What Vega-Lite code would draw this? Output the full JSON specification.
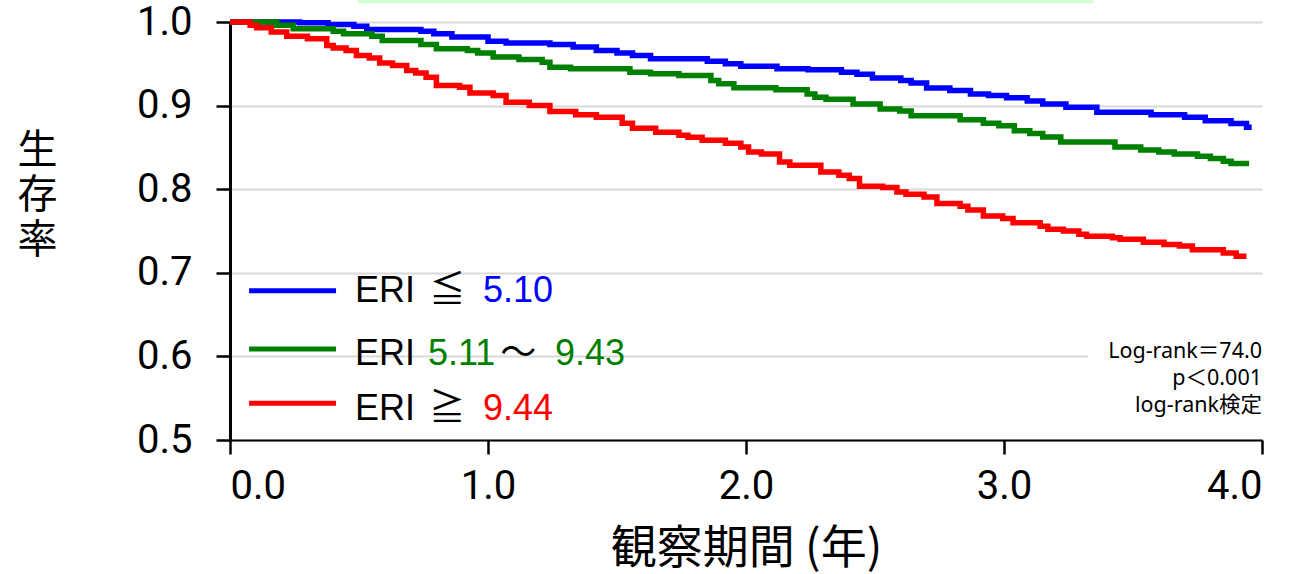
{
  "$schema": "https://vega.github.io/schema/vega-lite/v6.json",
  "width": 1032,
  "height": 418,
  "autosize": {"type": "none"},
  "padding": {"left": 230, "top": 22, "right": 32, "bottom": 134},
  "background": "white",
  "config": {
    "view": {"stroke": null},
    "axisX": {
      "format": ".1f", "grid": false,
      "labelFont": "Roboto", "labelFontSize": 40, "labelColor": "#000000", "labelPadding": 12,
      "tickSize": 14, "tickWidth": 2.5, "tickColor": "#000000",
      "domainColor": "#000000", "domainWidth": 2,
      "titleFont": "Noto Sans CJK JP", "titleFontSize": 46, "titleFontWeight": "normal", "titleColor": "#000000",
      "titleX": 516, "titleY": 108, "titleBaseline": "middle", "titleAlign": "center"
    },
    "axisY": {
      "format": ".1f", "grid": true,
      "gridColor": "#d9d9d9", "gridWidth": 2,
      "labelFont": "Roboto", "labelFontSize": 40, "labelColor": "#000000", "labelPadding": 24,
      "tickSize": 14, "tickWidth": 2.5, "tickColor": "#000000",
      "domainColor": "#000000", "domainWidth": 3,
      "titleFont": "Noto Sans CJK JP", "titleFontSize": 40, "titleFontWeight": "normal", "titleColor": "#000000",
      "titleAngle": 0, "titleX": -193, "titleY": 128, "titleAlign": "center", "titleBaseline": "middle", "titleLineHeight": 45
    }
  },
  "datasets": {
    "km": [
      {"g": "low", "t": 0, "s": 1.0},
      {"g": "low", "t": 0.27, "s": 0.999},
      {"g": "low", "t": 0.38, "s": 0.997},
      {"g": "low", "t": 0.48, "s": 0.995},
      {"g": "low", "t": 0.53, "s": 0.991},
      {"g": "low", "t": 0.74, "s": 0.989},
      {"g": "low", "t": 0.79, "s": 0.986},
      {"g": "low", "t": 0.86, "s": 0.982},
      {"g": "low", "t": 1.0, "s": 0.977},
      {"g": "low", "t": 1.07, "s": 0.975},
      {"g": "low", "t": 1.24, "s": 0.973},
      {"g": "low", "t": 1.33, "s": 0.97},
      {"g": "low", "t": 1.42, "s": 0.966},
      {"g": "low", "t": 1.5, "s": 0.963},
      {"g": "low", "t": 1.56, "s": 0.96},
      {"g": "low", "t": 1.63, "s": 0.956},
      {"g": "low", "t": 1.85, "s": 0.953},
      {"g": "low", "t": 1.92, "s": 0.95},
      {"g": "low", "t": 1.98, "s": 0.947},
      {"g": "low", "t": 2.12, "s": 0.944},
      {"g": "low", "t": 2.24, "s": 0.943},
      {"g": "low", "t": 2.37, "s": 0.94},
      {"g": "low", "t": 2.43, "s": 0.9375},
      {"g": "low", "t": 2.49, "s": 0.933},
      {"g": "low", "t": 2.6, "s": 0.93},
      {"g": "low", "t": 2.64, "s": 0.927},
      {"g": "low", "t": 2.7, "s": 0.921},
      {"g": "low", "t": 2.79, "s": 0.918},
      {"g": "low", "t": 2.87, "s": 0.914},
      {"g": "low", "t": 2.94, "s": 0.912},
      {"g": "low", "t": 3.01, "s": 0.9095},
      {"g": "low", "t": 3.09, "s": 0.9055},
      {"g": "low", "t": 3.15, "s": 0.902},
      {"g": "low", "t": 3.24, "s": 0.898},
      {"g": "low", "t": 3.36, "s": 0.892},
      {"g": "low", "t": 3.57, "s": 0.889},
      {"g": "low", "t": 3.7, "s": 0.886},
      {"g": "low", "t": 3.78, "s": 0.882},
      {"g": "low", "t": 3.88, "s": 0.8785},
      {"g": "low", "t": 3.94, "s": 0.874},
      {"g": "low", "t": 3.96, "s": 0.874},
      {"g": "mid", "t": 0, "s": 1.0},
      {"g": "mid", "t": 0.18, "s": 0.996},
      {"g": "mid", "t": 0.245, "s": 0.992},
      {"g": "mid", "t": 0.4, "s": 0.989},
      {"g": "mid", "t": 0.44, "s": 0.986},
      {"g": "mid", "t": 0.55, "s": 0.983},
      {"g": "mid", "t": 0.59, "s": 0.978},
      {"g": "mid", "t": 0.74, "s": 0.973},
      {"g": "mid", "t": 0.8, "s": 0.968},
      {"g": "mid", "t": 0.92, "s": 0.966},
      {"g": "mid", "t": 0.96, "s": 0.963},
      {"g": "mid", "t": 1.02, "s": 0.958},
      {"g": "mid", "t": 1.12, "s": 0.955},
      {"g": "mid", "t": 1.21, "s": 0.952},
      {"g": "mid", "t": 1.24, "s": 0.946},
      {"g": "mid", "t": 1.32, "s": 0.944},
      {"g": "mid", "t": 1.55, "s": 0.94},
      {"g": "mid", "t": 1.63, "s": 0.938},
      {"g": "mid", "t": 1.74, "s": 0.936},
      {"g": "mid", "t": 1.864, "s": 0.93},
      {"g": "mid", "t": 1.894, "s": 0.926},
      {"g": "mid", "t": 1.953, "s": 0.9215},
      {"g": "mid", "t": 2.116, "s": 0.919},
      {"g": "mid", "t": 2.237, "s": 0.914},
      {"g": "mid", "t": 2.267, "s": 0.91},
      {"g": "mid", "t": 2.31, "s": 0.9075},
      {"g": "mid", "t": 2.415, "s": 0.902},
      {"g": "mid", "t": 2.52, "s": 0.896},
      {"g": "mid", "t": 2.596, "s": 0.8935},
      {"g": "mid", "t": 2.64, "s": 0.888},
      {"g": "mid", "t": 2.83, "s": 0.883},
      {"g": "mid", "t": 2.92, "s": 0.879},
      {"g": "mid", "t": 2.98, "s": 0.876},
      {"g": "mid", "t": 3.04, "s": 0.87},
      {"g": "mid", "t": 3.1, "s": 0.8665},
      {"g": "mid", "t": 3.15, "s": 0.8625},
      {"g": "mid", "t": 3.22, "s": 0.8565},
      {"g": "mid", "t": 3.43, "s": 0.8505},
      {"g": "mid", "t": 3.53, "s": 0.847},
      {"g": "mid", "t": 3.6, "s": 0.8445},
      {"g": "mid", "t": 3.66, "s": 0.842},
      {"g": "mid", "t": 3.75, "s": 0.8395},
      {"g": "mid", "t": 3.8, "s": 0.8366},
      {"g": "mid", "t": 3.85, "s": 0.8334},
      {"g": "mid", "t": 3.88, "s": 0.8306},
      {"g": "mid", "t": 3.95, "s": 0.8306},
      {"g": "high", "t": 0, "s": 1.0},
      {"g": "high", "t": 0.078, "s": 0.996},
      {"g": "high", "t": 0.103, "s": 0.993},
      {"g": "high", "t": 0.16, "s": 0.988},
      {"g": "high", "t": 0.22, "s": 0.983},
      {"g": "high", "t": 0.3, "s": 0.98},
      {"g": "high", "t": 0.375, "s": 0.972},
      {"g": "high", "t": 0.4, "s": 0.969},
      {"g": "high", "t": 0.45, "s": 0.966},
      {"g": "high", "t": 0.49, "s": 0.96},
      {"g": "high", "t": 0.54, "s": 0.957},
      {"g": "high", "t": 0.58, "s": 0.951},
      {"g": "high", "t": 0.63, "s": 0.948},
      {"g": "high", "t": 0.685, "s": 0.942},
      {"g": "high", "t": 0.72, "s": 0.939},
      {"g": "high", "t": 0.76, "s": 0.934},
      {"g": "high", "t": 0.8, "s": 0.924},
      {"g": "high", "t": 0.89, "s": 0.922},
      {"g": "high", "t": 0.93, "s": 0.915},
      {"g": "high", "t": 1.02, "s": 0.912},
      {"g": "high", "t": 1.07, "s": 0.904},
      {"g": "high", "t": 1.16, "s": 0.9},
      {"g": "high", "t": 1.24, "s": 0.893},
      {"g": "high", "t": 1.34, "s": 0.889},
      {"g": "high", "t": 1.42, "s": 0.886},
      {"g": "high", "t": 1.52, "s": 0.879},
      {"g": "high", "t": 1.56, "s": 0.873},
      {"g": "high", "t": 1.65, "s": 0.868},
      {"g": "high", "t": 1.74, "s": 0.8645},
      {"g": "high", "t": 1.775, "s": 0.862},
      {"g": "high", "t": 1.83, "s": 0.8585},
      {"g": "high", "t": 1.92, "s": 0.855},
      {"g": "high", "t": 1.98, "s": 0.8505},
      {"g": "high", "t": 2.01, "s": 0.8445},
      {"g": "high", "t": 2.06, "s": 0.842},
      {"g": "high", "t": 2.13, "s": 0.8325},
      {"g": "high", "t": 2.17, "s": 0.8286},
      {"g": "high", "t": 2.29, "s": 0.8206},
      {"g": "high", "t": 2.36, "s": 0.8166},
      {"g": "high", "t": 2.4, "s": 0.8127},
      {"g": "high", "t": 2.44, "s": 0.8035},
      {"g": "high", "t": 2.53, "s": 0.802},
      {"g": "high", "t": 2.585, "s": 0.7967},
      {"g": "high", "t": 2.62, "s": 0.794},
      {"g": "high", "t": 2.69, "s": 0.7907},
      {"g": "high", "t": 2.74, "s": 0.7828},
      {"g": "high", "t": 2.83, "s": 0.7796},
      {"g": "high", "t": 2.86, "s": 0.775},
      {"g": "high", "t": 2.92, "s": 0.768},
      {"g": "high", "t": 2.995, "s": 0.765},
      {"g": "high", "t": 3.035, "s": 0.76},
      {"g": "high", "t": 3.14, "s": 0.7556},
      {"g": "high", "t": 3.17, "s": 0.752},
      {"g": "high", "t": 3.23, "s": 0.75},
      {"g": "high", "t": 3.29, "s": 0.746},
      {"g": "high", "t": 3.32, "s": 0.7437},
      {"g": "high", "t": 3.42, "s": 0.742},
      {"g": "high", "t": 3.45, "s": 0.74},
      {"g": "high", "t": 3.54, "s": 0.7365},
      {"g": "high", "t": 3.62, "s": 0.734},
      {"g": "high", "t": 3.68, "s": 0.732},
      {"g": "high", "t": 3.73, "s": 0.7277},
      {"g": "high", "t": 3.85, "s": 0.7237},
      {"g": "high", "t": 3.9, "s": 0.7197},
      {"g": "high", "t": 3.94, "s": 0.7197}
    ],
    "legLines": [
      {"g": "low", "s": 0.6786},
      {"g": "mid", "s": 0.609},
      {"g": "high", "s": 0.5441}
    ],
    "legText": [
      {"t": 0.4845, "s": 0.6651, "txt": "ERI", "c": "k"},
      {"t": 0.772, "s": 0.6651, "txt": "≦", "c": "k"},
      {"t": 0.9806, "s": 0.6651, "txt": "5.10", "c": "low"},
      {"t": 0.4845, "s": 0.5899, "txt": "ERI", "c": "k"},
      {"t": 0.7674, "s": 0.5899, "txt": "5.11", "c": "mid"},
      {"t": 1.047, "s": 0.5899, "txt": "～", "c": "k"},
      {"t": 1.2597, "s": 0.5899, "txt": "9.43", "c": "mid"},
      {"t": 0.4845, "s": 0.5241, "txt": "ERI", "c": "k"},
      {"t": 0.772, "s": 0.5241, "txt": "≧", "c": "k"},
      {"t": 0.9806, "s": 0.5241, "txt": "9.44", "c": "high"}
    ],
    "stats": [
      {"s": 0.5978, "txt": "Log-rank＝74.0"},
      {"s": 0.5656, "txt": "p＜0.001"},
      {"s": 0.5329, "txt": "log-rank検定"}
    ]
  },
  "layer": [
    {
      "data": {"values": [{"a": 0.496, "b": 3.345, "c": 1.0224, "d": 1.026}]},
      "mark": {"type": "rect", "color": "#ccffcc", "clip": false},
      "encoding": {
        "x": {"field": "a", "type": "quantitative", "scale": {"domain": [0, 4]}, "title": "観察期間 (年)", "axis": {"values": [0, 1, 2, 3, 4]}},
        "x2": {"field": "b"},
        "y": {"field": "c", "type": "quantitative", "scale": {"domain": [0.5, 1.0]}, "title": ["生", "存", "率"], "axis": {"values": [0.5, 0.6, 0.7, 0.8, 0.9, 1.0]}},
        "y2": {"field": "d"}
      }
    },
    {
      "data": {"values": [{"a": 3.326, "b": 4.0, "c": 0.585, "d": 0.615}]},
      "mark": {"type": "rect", "color": "#ffffff"},
      "encoding": {
        "x": {"field": "a", "type": "quantitative", "scale": {"domain": [0, 4]}, "title": "観察期間 (年)", "axis": {"values": [0, 1, 2, 3, 4]}},
        "x2": {"field": "b"},
        "y": {"field": "c", "type": "quantitative", "scale": {"domain": [0.5, 1.0]}, "title": ["生", "存", "率"], "axis": {"values": [0.5, 0.6, 0.7, 0.8, 0.9, 1.0]}},
        "y2": {"field": "d"}
      }
    },
    {
      "data": {"name": "km"},
      "mark": {"type": "line", "interpolate": "step-after", "strokeWidth": 5.5},
      "encoding": {
        "x": {"field": "t", "type": "quantitative", "scale": {"domain": [0, 4]}, "title": "観察期間 (年)", "axis": {"values": [0, 1, 2, 3, 4]}},
        "y": {"field": "s", "type": "quantitative", "scale": {"domain": [0.5, 1.0]}, "title": ["生", "存", "率"], "axis": {"values": [0.5, 0.6, 0.7, 0.8, 0.9, 1.0]}},
        "color": {"field": "g", "type": "nominal", "scale": {"domain": ["low", "mid", "high", "k"], "range": ["#0000ff", "#008000", "#ff0000", "#000000"]}, "legend": null}
      }
    },
    {
      "data": {"name": "legLines"},
      "mark": {"type": "rule", "strokeWidth": 5},
      "encoding": {
        "x": {"datum": 0.074, "type": "quantitative", "scale": {"domain": [0, 4]}, "title": "観察期間 (年)", "axis": {"values": [0, 1, 2, 3, 4]}},
        "x2": {"datum": 0.411},
        "y": {"field": "s", "type": "quantitative", "scale": {"domain": [0.5, 1.0]}, "title": ["生", "存", "率"], "axis": {"values": [0.5, 0.6, 0.7, 0.8, 0.9, 1.0]}},
        "color": {"field": "g", "type": "nominal", "scale": {"domain": ["low", "mid", "high", "k"], "range": ["#0000ff", "#008000", "#ff0000", "#000000"]}, "legend": null}
      }
    },
    {
      "data": {"name": "legText"},
      "mark": {"type": "text", "align": "left", "baseline": "alphabetic", "fontSize": 36, "font": "Liberation Sans, Noto Sans CJK JP"},
      "encoding": {
        "x": {"field": "t", "type": "quantitative", "scale": {"domain": [0, 4]}, "title": "観察期間 (年)", "axis": {"values": [0, 1, 2, 3, 4]}},
        "y": {"field": "s", "type": "quantitative", "scale": {"domain": [0.5, 1.0]}, "title": ["生", "存", "率"], "axis": {"values": [0.5, 0.6, 0.7, 0.8, 0.9, 1.0]}},
        "text": {"field": "txt"},
        "color": {"field": "c", "type": "nominal", "scale": {"domain": ["low", "mid", "high", "k"], "range": ["#0000ff", "#008000", "#ff0000", "#000000"]}, "legend": null}
      }
    },
    {
      "data": {"name": "stats"},
      "mark": {"type": "text", "align": "right", "baseline": "alphabetic", "fontSize": 21.5, "font": "Noto Sans, Noto Sans CJK JP", "color": "#000000"},
      "encoding": {
        "x": {"datum": 4.0, "type": "quantitative", "scale": {"domain": [0, 4]}, "title": "観察期間 (年)", "axis": {"values": [0, 1, 2, 3, 4]}},
        "y": {"field": "s", "type": "quantitative", "scale": {"domain": [0.5, 1.0]}, "title": ["生", "存", "率"], "axis": {"values": [0.5, 0.6, 0.7, 0.8, 0.9, 1.0]}},
        "text": {"field": "txt"}
      }
    }
  ]
}
